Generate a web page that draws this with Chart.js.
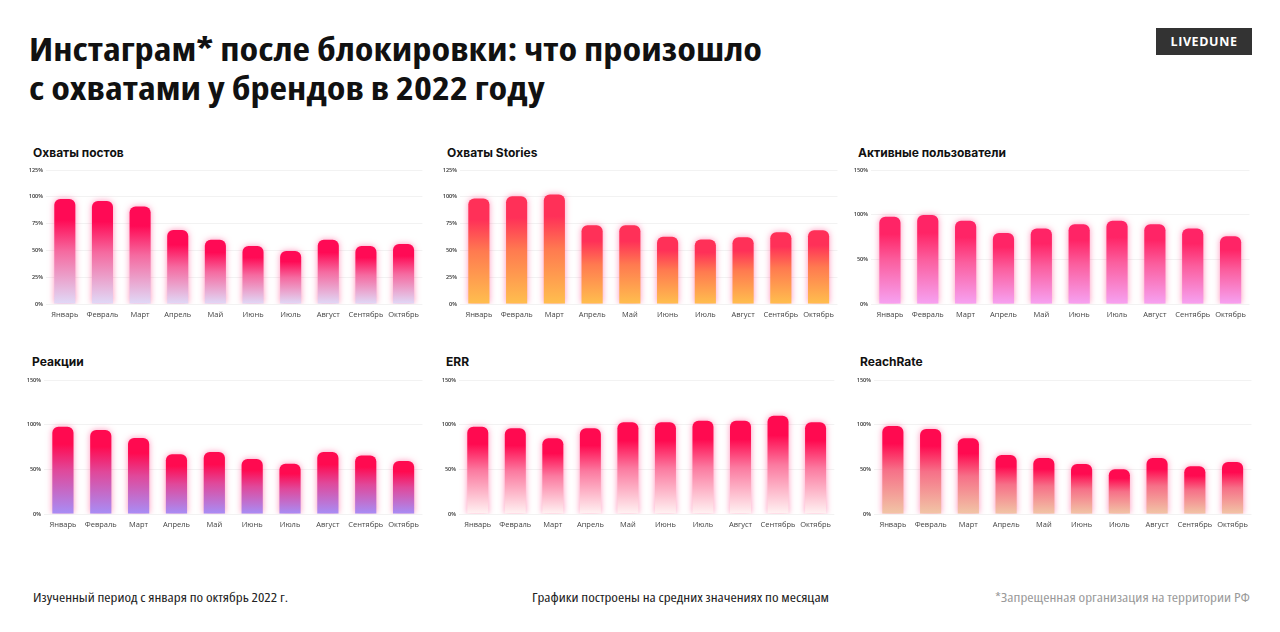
<!DOCTYPE html>
<html>
<head>
<meta charset="utf-8">
<script src="https://cdn.jsdelivr.net/npm/chart.js@4.4.0/dist/chart.umd.min.js"></script>
<style>
    body { margin: 0; width: 1280px; height: 632px; background: #fff; position: relative; overflow: hidden; font-family: "Open Sans", sans-serif; }
    h1 { position: absolute; left: 29px; top: 29px; margin: 0; font-family: "Open Sans", sans-serif; font-weight: 700; font-size: 32px; line-height: 39px; font-stretch: 75%; color: #111; transform-origin: 0 0; white-space: nowrap; }
    .logo { position: absolute; left: 1156px; top: 28px; width: 96px; height: 27px; background: #333; color: #fff; font: 700 12.5px "Open Sans", sans-serif; letter-spacing: 0.6px; text-align: center; line-height: 27px; }
    .ptitle { position: absolute; font: 700 12px Inter, sans-serif; color: #111; }
    .box { position: absolute; }
    .foot { position: absolute; top: 589px; font-family: "Open Sans", sans-serif; font-weight: 400; font-size: 12.5px; font-stretch: 75%; color: #222; transform-origin: 0 0; white-space: nowrap; }
</style>
</head>
<body>
<h1 id="title"><span id="t1">Инстаграм* после блокировки: что произошло</span><br>с охватами у брендов в 2022 году</h1>
<div class="logo">LIVEDUNE</div>

<div class="ptitle" style="left:33px;top:145px">Охваты постов</div>
<div class="ptitle" style="left:447px;top:145px">Охваты Stories</div>
<div class="ptitle" style="left:858px;top:145px">Активные пользователи</div>
<div class="ptitle" style="left:32px;top:354px">Реакции</div>
<div class="ptitle" style="left:446px;top:354px">ERR</div>
<div class="ptitle" style="left:860px;top:354px">ReachRate</div>

<div class="box" style="left:20px;top:160px;width:405px;height:162px"><canvas id="c1"></canvas></div>
<div class="box" style="left:434px;top:160px;width:406px;height:162px"><canvas id="c2"></canvas></div>
<div class="box" style="left:845px;top:160px;width:407px;height:162px"><canvas id="c3"></canvas></div>
<div class="box" style="left:18px;top:370px;width:407px;height:162px"><canvas id="c4"></canvas></div>
<div class="box" style="left:433px;top:370px;width:404px;height:162px"><canvas id="c5"></canvas></div>
<div class="box" style="left:848px;top:370px;width:406px;height:162px"><canvas id="c6"></canvas></div>

<div class="foot" id="f1" style="left:33px">Изученный период с января по октябрь 2022 г.</div>
<div class="foot" id="f2" style="left:532px">Графики построены на средних значениях по месяцам</div>
<div class="foot" id="f3" style="left:995px;color:#9a9a9a">*Запрещенная организация на территории РФ</div>

<script>
// months and averaged values, % of January level
var months = ['Январь', 'Февраль', 'Март', 'Апрель', 'Май', 'Июнь', 'Июль', 'Август', 'Сентябрь', 'Октябрь'];

var postsReach   = [98, 96, 91, 69, 60, 54, 49.5, 60, 54, 56];
var storiesReach = [98.5, 100.6, 102.2, 73.4, 73.4, 62.8, 60.1, 62.2, 66.9, 68.7];
var activeUsers  = [97.8, 99.6, 93.3, 79.6, 84.4, 89.3, 93.3, 89.3, 84.4, 75.9];
var reactions    = [97.8, 94.1, 85.2, 67, 69.3, 61.5, 56.3, 69.3, 65.6, 59.3];
var errValues    = [97.8, 95.9, 84.8, 95.9, 102.6, 102.6, 104.4, 104.4, 110, 102.6];
var reachRate    = [98.5, 95.1, 84.7, 66, 62.7, 56, 50, 62.7, 53.4, 58.2];

// y axis: max and step per chart
var axisMax  = [125, 125, 150, 150, 150, 150];
var axisStep = [25, 25, 50, 50, 50, 50];

// stretch a text block so that it spans the same width as in the picture
function fitWidth(el, measure, target) {
    var w = measure.getBoundingClientRect().width;
    if (w > 0) el.style.transform = 'scaleX(' + (target / w) + ')';
}
fitWidth(document.getElementById('title'), document.getElementById('t1'), 733);
fitWidth(document.getElementById('f1'), document.getElementById('f1'), 255);
fitWidth(document.getElementById('f2'), document.getElementById('f2'), 297);
fitWidth(document.getElementById('f3'), document.getElementById('f3'), 255);

function barFill(top, mid, bottom) {
    return function (ctx) {
        var chart = ctx.chart;
        if (!chart.chartArea || ctx.type !== 'data') return top;
        var y = chart.scales.y;
        var y0 = y.getPixelForValue(0);
        var y1 = y.getPixelForValue(ctx.raw);
        var g = chart.ctx.createLinearGradient(0, y1, 0, y0);
        g.addColorStop(0, top);
        g.addColorStop(0.2, top);
        g.addColorStop(0.5, mid);
        g.addColorStop(1, bottom);
        return g;
    };
}

var glow = {
    id: 'glow',
    beforeDatasetsDraw: function (chart) {
        var c = chart.ctx;
        c.save();
        c.shadowColor = 'rgba(255, 40, 120, 0.5)';
        c.shadowBlur = 6;
    },
    afterDatasetsDraw: function (chart) {
        chart.ctx.restore();
    }
};

function makeChart(id, values, max, step, fill) {
    new Chart(document.getElementById(id), {
        type: 'bar',
        data: {
            labels: months,
            datasets: [{
                data: values,
                backgroundColor: fill,
                borderRadius: 6,
                borderSkipped: 'start',
                categoryPercentage: 1,
                barPercentage: 0.56
            }]
        },
        plugins: [glow],
        options: {
            responsive: true,
            maintainAspectRatio: false,
            animation: false,
            layout: { padding: { top: 10, right: 0, bottom: 0, left: 0 } },
            plugins: { legend: { display: false }, tooltip: { enabled: false } },
            scales: {
                x: {
                    grid: { display: false, drawTicks: false },
                    border: { display: false },
                    ticks: { color: '#444', font: { family: 'Open Sans', size: 7.5 }, padding: 6, maxRotation: 0, autoSkip: false },
                    afterFit: function (s) { s.height = 18; }
                },
                y: {
                    min: 0,
                    max: max,
                    border: { display: false },
                    grid: { color: '#f2f2f2', drawTicks: false },
                    ticks: {
                        stepSize: step,
                        color: '#333',
                        padding: 3,
                        font: { family: 'Open Sans', size: 5.5, weight: '600' },
                        callback: function (v) { return v + '%'; }
                    },
                    afterFit: function (s) { s.width = 26; }
                }
            }
        }
    });
}

makeChart('c1', postsReach, axisMax[0], axisStep[0], barFill('#ff0a55', '#f56aa0', '#e0daf8'));
makeChart('c2', storiesReach, axisMax[1], axisStep[1], barFill('#ff3058', '#ff7a50', '#ffbf4e'));
makeChart('c3', activeUsers, axisMax[2], axisStep[2], barFill('#ff2466', '#fb5e9e', '#f6a2f2'));
makeChart('c4', reactions, axisMax[3], axisStep[3], barFill('#ff0a50', '#e0489a', '#a78ef7'));
makeChart('c5', errValues, axisMax[4], axisStep[4], barFill('#ff0a50', '#fb7aa0', '#fff3f3'));
makeChart('c6', reachRate, axisMax[5], axisStep[5], barFill('#ff0a50', '#f67088', '#f1c6a6'));
</script>
</body>
</html>
